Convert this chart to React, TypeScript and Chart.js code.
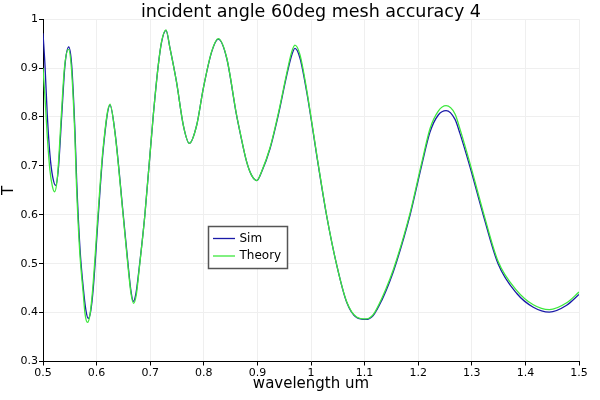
import React, { useEffect, useRef } from "react";
import { Chart, registerables } from "chart.js";

Chart.register(...registerables);

const chartTitle = "incident angle 60deg mesh accuracy 4";
const xAxisTitle = "wavelength um";
const yAxisTitle = "T";
const seriesNames = ["Sim", "Theory"];

const simWavelength = [
  0.5, 0.5037, 0.508, 0.513, 0.518, 0.5237, 0.5286, 0.535, 0.541, 0.548,
  0.5535, 0.5597, 0.5629, 0.569, 0.5752, 0.58, 0.5845, 0.589, 0.5938, 0.6032,
  0.6125, 0.625, 0.6343, 0.6498, 0.6592, 0.664, 0.6685, 0.6735, 0.679, 0.69,
  0.7058, 0.7151, 0.7214, 0.7295, 0.737, 0.749, 0.7618, 0.773, 0.7867, 0.799,
  0.8147, 0.827, 0.8427, 0.861, 0.8675, 0.88, 0.889, 0.899, 0.908, 0.9235,
  0.939, 0.9547, 0.964, 0.97, 0.9795, 0.992, 1.0136, 1.029, 1.048, 1.0666,
  1.085, 1.1026, 1.116, 1.132, 1.1474, 1.16, 1.1847, 1.2065, 1.222, 1.2375,
  1.252, 1.2687, 1.278, 1.2966, 1.3215, 1.349, 1.384, 1.4147, 1.4446, 1.477,
  1.5,
];
const simT = [
  0.971, 0.906, 0.804, 0.722, 0.678, 0.66, 0.693, 0.804, 0.906, 0.943,
  0.906, 0.769, 0.667, 0.531, 0.45, 0.405, 0.388, 0.403, 0.45, 0.599,
  0.735, 0.824, 0.769, 0.599, 0.493, 0.445, 0.423, 0.44, 0.487, 0.599,
  0.804, 0.906, 0.954, 0.977, 0.94, 0.872, 0.783, 0.746, 0.783, 0.858,
  0.933, 0.959, 0.92, 0.804, 0.769, 0.708, 0.681, 0.67, 0.688, 0.735,
  0.804, 0.885, 0.926, 0.94, 0.92, 0.851, 0.701, 0.599, 0.497, 0.421,
  0.39, 0.386, 0.394, 0.425, 0.465, 0.505, 0.599, 0.701, 0.769, 0.804,
  0.813, 0.795, 0.766, 0.698, 0.599, 0.5, 0.439, 0.411, 0.401, 0.415,
  0.437,
];

const theoryWavelength = [
  0.5, 0.5037, 0.508, 0.513, 0.5175, 0.5215, 0.527, 0.534, 0.54, 0.5475,
  0.553, 0.5595, 0.5625, 0.5685, 0.575, 0.5785, 0.583, 0.5875, 0.5925, 0.6025,
  0.612, 0.625, 0.634, 0.6495, 0.659, 0.6643, 0.669, 0.674, 0.679, 0.69,
  0.7058, 0.7151, 0.7214, 0.7295, 0.737, 0.749, 0.7618, 0.773, 0.7867, 0.799,
  0.8147, 0.827, 0.8427, 0.861, 0.8675, 0.88, 0.889, 0.899, 0.908, 0.9235,
  0.939, 0.9547, 0.964, 0.97, 0.9795, 0.992, 1.0136, 1.029, 1.048, 1.0666,
  1.085, 1.1026, 1.116, 1.132, 1.1474, 1.16, 1.1847, 1.2065, 1.222, 1.2375,
  1.252, 1.2687, 1.278, 1.2966, 1.3215, 1.349, 1.384, 1.4147, 1.4446, 1.477,
  1.5,
];
const theoryT = [
  0.9, 0.84, 0.76, 0.69, 0.658, 0.647, 0.678, 0.8, 0.9, 0.938,
  0.9, 0.76, 0.66, 0.525, 0.44, 0.397, 0.38, 0.395, 0.445, 0.599,
  0.735, 0.826, 0.77, 0.599, 0.49, 0.438, 0.419, 0.436, 0.484, 0.599,
  0.804, 0.906, 0.955, 0.978, 0.94, 0.872, 0.783, 0.746, 0.783, 0.858,
  0.934, 0.96, 0.921, 0.805, 0.77, 0.708, 0.681, 0.67, 0.689, 0.737,
  0.807, 0.889, 0.933, 0.947, 0.927, 0.855, 0.703, 0.6, 0.497, 0.422,
  0.391, 0.387, 0.396, 0.429, 0.469, 0.509, 0.603, 0.706, 0.776, 0.812,
  0.823, 0.806, 0.775, 0.705, 0.605, 0.505, 0.445, 0.416, 0.406, 0.42,
  0.442,
];

const xTicks = [0.5, 0.6, 0.7, 0.8, 0.9, 1, 1.1, 1.2, 1.3, 1.4, 1.5];
const yTicks = [0.3, 0.4, 0.5, 0.6, 0.7, 0.8, 0.9, 1];

const SIM_COLOR = "#1a1aa8";
const THEORY_COLOR = "#3de83d";
const FONT = "'DejaVu Sans', sans-serif";

const legendPlugin = {
  id: "boxLegend",
  afterDraw(chart: any) {
    const ctx = chart.ctx;
    const x0 = 208.5, y0 = 226.5, w = 79, h = 42;
    ctx.save();
    ctx.fillStyle = "#ffffff";
    ctx.fillRect(x0, y0, w, h);
    ctx.strokeStyle = "#555555";
    ctx.lineWidth = 1.5;
    ctx.strokeRect(x0, y0, w, h);
    chart.data.datasets.forEach((ds: any, i: number) => {
      const ly = y0 + 12 + i * 17.5;
      ctx.strokeStyle = ds.borderColor;
      ctx.lineWidth = 1.3;
      ctx.beginPath();
      ctx.moveTo(x0 + 4.5, ly);
      ctx.lineTo(x0 + 26.5, ly);
      ctx.stroke();
      ctx.fillStyle = "#000";
      ctx.font = "12px " + FONT;
      ctx.textBaseline = "middle";
      ctx.textAlign = "left";
      ctx.fillText(ds.label, x0 + 31, ly);
    });
    ctx.restore();
  },
};

export default function App() {
  const ref = useRef<HTMLCanvasElement | null>(null);
  useEffect(() => {
    if (!ref.current) return;
    const toPts = (xs: number[], ys: number[]) => xs.map((x, i) => ({ x, y: ys[i] }));
    const chart = new Chart(ref.current, {
      type: "line",
      data: {
        datasets: [
          {
            label: seriesNames[0],
            data: toPts(simWavelength, simT),
            borderColor: SIM_COLOR,
            backgroundColor: SIM_COLOR,
            borderWidth: 1.3,
            pointRadius: 0,
            cubicInterpolationMode: "monotone",
            order: 1,
          },
          {
            label: seriesNames[1],
            data: toPts(theoryWavelength, theoryT),
            borderColor: THEORY_COLOR,
            backgroundColor: THEORY_COLOR,
            borderWidth: 1.3,
            pointRadius: 0,
            cubicInterpolationMode: "monotone",
            order: 0,
          },
        ],
      },
      options: {
        responsive: false,
        animation: false,
        layout: { padding: { left: 0, right: 21, top: 0, bottom: 0 } },
        plugins: {
          legend: { display: false },
          tooltip: { enabled: false },
          title: {
            display: true,
            fullSize: false,
            text: chartTitle,
            color: "#000",
            font: { family: FONT, size: 17.5, weight: "normal", lineHeight: 0.75 },
            padding: { top: 6, bottom: 0 },
          },
        },
        scales: {
          x: {
            type: "linear",
            min: 0.5,
            max: 1.5,
            afterBuildTicks: (axis: any) => {
              axis.ticks = xTicks.map((v) => ({ value: v }));
            },
            afterFit: (axis: any) => {
              axis.height = 38.5;
            },
            ticks: {
              color: "#000",
              font: { family: FONT, size: 11 },
              padding: 1,
              maxRotation: 0,
              autoSkip: false,
              callback: (v: any) => String(Math.round(Number(v) * 10) / 10),
            },
            grid: { color: "#efefef", tickColor: "#000", tickLength: 4 },
            border: { color: "#000", width: 1 },
            title: {
              display: true,
              text: xAxisTitle,
              color: "#000",
              font: { family: FONT, size: 15 },
              padding: { top: 0, bottom: 6.5 },
            },
          },
          y: {
            type: "linear",
            min: 0.3,
            max: 1,
            afterBuildTicks: (axis: any) => {
              axis.ticks = yTicks.map((v) => ({ value: v }));
            },
            afterFit: (axis: any) => {
              axis.width = 43;
            },
            ticks: {
              color: "#000",
              font: { family: FONT, size: 11 },
              padding: 1,
              autoSkip: false,
              callback: (v: any) => String(Math.round(Number(v) * 10) / 10),
            },
            grid: { color: "#efefef", tickColor: "#000", tickLength: 4 },
            border: { color: "#000", width: 1 },
            title: {
              display: true,
              text: yAxisTitle,
              color: "#000",
              font: { family: FONT, size: 15 },
              padding: { top: 0, bottom: 0 },
            },
          },
        },
      },
      plugins: [legendPlugin],
    });
    return () => chart.destroy();
  }, []);
  return (
    <div style={{ position: "fixed", left: 0, top: 0, width: 600, height: 400, background: "#fff" }}>
      <canvas ref={ref} width={600} height={400} />
    </div>
  );
}
